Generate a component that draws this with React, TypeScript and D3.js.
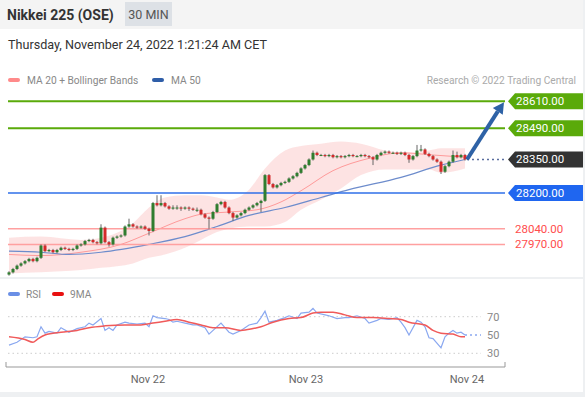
import React from 'react';
import * as d3 from 'd3';

// ---- Candles (30 min) ----
const opens = [27835,27845,27860,27875,27885,27895,27905,27895,27910,27965,27940,27945,27935,27945,27955,27950,27945,27950,27965,27970,27985,27990,27980,27975,28045,27980,27970,28000,28005,28010,28050,28060,28050,28045,28050,28040,28030,28155,28145,28155,28140,28130,28135,28135,28130,28135,28130,28125,28125,28105,28090,28085,28115,28150,28160,28135,28110,28090,28100,28110,28125,28135,28145,28155,28165,28280,28240,28225,28235,28245,28250,28265,28275,28290,28310,28325,28350,28380,28370,28370,28365,28370,28360,28365,28360,28365,28370,28365,28365,28370,28365,28360,28350,28370,28380,28385,28380,28380,28375,28380,28370,28350,28365,28390,28395,28375,28365,28350,28340,28295,28320,28340,28370,28360,28370];
const closes = [27845,27860,27875,27885,27895,27905,27895,27910,27965,27940,27945,27935,27945,27955,27950,27945,27950,27965,27970,27985,27990,27980,27975,28045,27980,27970,28000,28005,28010,28050,28060,28050,28045,28050,28040,28030,28155,28145,28155,28140,28130,28135,28135,28130,28135,28130,28125,28125,28105,28090,28085,28115,28150,28160,28135,28110,28090,28100,28110,28125,28135,28145,28155,28165,28280,28240,28225,28235,28245,28250,28265,28275,28290,28310,28325,28350,28380,28370,28370,28365,28370,28360,28365,28360,28365,28370,28365,28365,28370,28365,28360,28350,28370,28380,28385,28380,28380,28375,28380,28370,28350,28365,28390,28395,28375,28365,28350,28340,28295,28320,28340,28370,28360,28370,28350];
const highs = [27850,27865,27880,27890,27900,27910,27910,27915,27970,27970,27950,27950,27950,27960,27960,27955,27955,27970,27975,27990,27995,27995,27985,28060,28050,27985,28005,28010,28015,28055,28085,28065,28055,28055,28055,28045,28160,28190,28190,28160,28145,28145,28145,28140,28140,28140,28135,28135,28130,28110,28095,28120,28155,28165,28165,28140,28115,28105,28115,28130,28140,28150,28160,28170,28285,28285,28245,28240,28250,28255,28270,28280,28295,28315,28330,28355,28390,28385,28375,28375,28375,28375,28370,28370,28370,28375,28375,28370,28375,28375,28370,28365,28375,28385,28390,28390,28385,28385,28385,28385,28375,28370,28415,28415,28400,28380,28370,28355,28345,28325,28345,28390,28385,28375,28375];
const lows = [27830,27840,27855,27870,27880,27890,27890,27890,27905,27935,27935,27930,27930,27940,27945,27940,27940,27945,27960,27965,27980,27975,27970,27970,27975,27960,27965,27995,28000,28005,28045,28045,28040,28040,28035,28010,28025,28140,28140,28135,28125,28125,28125,28120,28125,28120,28120,28115,28100,28085,28040,28080,28110,28145,28130,28105,28075,28085,28095,28105,28120,28130,28140,28115,28160,28235,28220,28220,28230,28240,28245,28260,28270,28285,28305,28320,28345,28365,28365,28360,28360,28355,28355,28355,28355,28360,28360,28360,28360,28360,28355,28325,28345,28365,28375,28375,28375,28370,28370,28365,28335,28345,28360,28385,28370,28360,28345,28335,28285,28290,28315,28335,28355,28355,28345];

// ---- Indicators (candle index -> value) ----
const ma20Idx = [0, 8, 18, 28, 35, 44, 48, 55, 62, 68, 73, 81, 90, 98, 106, 114];
const ma20Val = [27925, 27920, 27935, 27970, 28020, 28085, 28105, 28115, 28125, 28160, 28210, 28300, 28355, 28380, 28370, 28360];
const ma50Idx = [0, 8, 15, 23, 35, 44, 52, 60, 69, 78, 85, 98, 108, 114];
const ma50Val = [27940, 27935, 27925, 27935, 27970, 28005, 28050, 28100, 28135, 28180, 28215, 28270, 28325, 28350];
const bbIdx = [0, 8, 18, 23, 31, 35, 39, 44, 48, 52, 55, 60, 64, 69, 73, 78, 83, 88, 94, 100, 105, 108, 114];
const bbUpper = [28000, 28005, 27990, 28000, 28065, 28135, 28180, 28190, 28190, 28180, 28170, 28215, 28310, 28390, 28410, 28420, 28430, 28420, 28390, 28380, 28390, 28400, 28400];
const bbLower = [27840, 27845, 27855, 27865, 27885, 27910, 27925, 27955, 27990, 28025, 28040, 28050, 28050, 28070, 28125, 28170, 28220, 28280, 28305, 28305, 28305, 28290, 28310];

const rsiIdx = [0,2,4,6,7,8,9,10,12,13,15,17,19,20,21,23,24,25,26,27,29,30,32,34,35,36,37,39,40,41,42,44,46,47,49,50,53,54,55,56,58,60,62,63,64,65,67,69,70,72,73,75,76,77,79,80,82,84,85,87,89,90,92,93,95,97,98,99,100,102,103,104,105,106,108,109,110,111,112,113,114];
const rsiVal = [39,42,48,47,48,59,52,54,52,58,53,57,59,63,61,68,55,58,55,61,64,63,62,63,59,71,69,68,67,64,65,63,61,61,58,51,63,58,53,51,55,61,63,69,76,64,66,69,71,68,74,75,79,74,72,71,68,69,69,71,68,63,66,68,67,69,64,58,50,66,64,59,47,46,36,48,52,55,52,53,50];
const maRsiIdx = [0,4,6,7,9,13,17,20,24,29,33,36,39,42,45,48,51,54,58,61,63,66,70,73,76,78,81,84,87,91,95,98,100,104,106,108,111,113,114];
const maRsiVal = [48,45,42,45,50,53,55,58,60,61,61,63,65,67,64,61,58,58,55,57,59,64,68,69,74,75,75,72,69,69,68,67,64,61,55,52,51,48,48];

// ---- Levels & ticks ----
const resistances = [28610, 28490];
const pivot = 28350;
const support1 = 28200;
const supports = [28040, 27970];
const target = 28610;
const dateLabels = ['Nov 22', 'Nov 23', 'Nov 24'];
const datePos = [34.75, 74.25, 114.5];
const rsiTicks = [70, 50, 30];

const FONT = 'Roboto, "Liberation Sans", Arial, sans-serif';

export default function App() {
  const W = 585, H = 397;
  const x = d3.scaleLinear().domain([0, 114]).range([9, 465]);
  const y = d3.scaleLinear().domain([27800, 28700]).range([282.4, 81.25]);
  const ry = d3.scaleLinear().domain([30, 70]).range([353.3, 316.7]);
  const plotL = 8, plotR = 505, rsiR = 481;
  const n = closes.length;

  const ma20 = d3.line<number>().x((d, i) => x(ma20Idx[i])).y(d => y(d)).curve(d3.curveMonotoneX)(ma20Val) || '';
  const ma50 = d3.line<number>().x((d, i) => x(ma50Idx[i])).y(d => y(d)).curve(d3.curveMonotoneX)(ma50Val) || '';
  const band = d3.area<number>().x((d, i) => x(bbIdx[i])).y0((d, i) => y(bbLower[i])).y1(d => y(d)).curve(d3.curveMonotoneX)(bbUpper) || '';
  const rsiLine = d3.line<number>().x((d, i) => x(rsiIdx[i])).y(d => ry(d)).curve(d3.curveLinear)(rsiVal) || '';
  const maRsiLine = d3.line<number>().x((d, i) => x(maRsiIdx[i])).y(d => ry(d)).curve(d3.curveMonotoneX)(maRsiVal) || '';

  const tag = (yc: number) => `M${plotR + 3},${yc} L${plotR + 10},${yc - 8} L583,${yc - 8} L583,${yc + 8} L${plotR + 10},${yc + 8} Z`;

  const lastX = x(n - 1);
  const lastY = y(closes[n - 1]);
  const tipX = plotR - 1, tipY = y(target) + 1;
  const ang = Math.atan2(tipY - lastY, tipX - lastX);
  const ah = 11, aw = 6;
  const bx = tipX - ah * Math.cos(ang), by = tipY - ah * Math.sin(ang);
  const head = `M${tipX},${tipY} L${bx + aw * Math.sin(ang)},${by - aw * Math.cos(ang)} L${bx - aw * Math.sin(ang)},${by + aw * Math.cos(ang)} Z`;

  const lastRsi = rsiVal[rsiVal.length - 1];

  return (
    <svg width={W} height={H} style={{ position: 'absolute', left: 0, top: 0, fontFamily: FONT }}>
      <rect x={0} y={0} width={W} height={H} fill="#fff" />
      {/* header */}
      <rect x={0} y={0} width={W} height={29} fill="#f4f4f4" />
      <text x={7} y={19.5} fontSize={14} fontWeight="bold" fill="#333">Nikkei 225 (OSE)</text>
      <rect x={125} y={2} width={47} height={24} fill="#dde1e6" />
      <text x={148.5} y={18.5} fontSize={12.5} fill="#555" textAnchor="middle">30 MIN</text>
      <text x={8} y={48.5} fontSize={12.6} fill="#333">Thursday, November 24, 2022 1:21:24 AM CET</text>

      {/* legend */}
      <rect x={8} y={78} width={12} height={4} rx={2} fill="#ff8a8a" />
      <text x={27} y={84} fontSize={10.2} fill="#888">MA 20 + Bollinger Bands</text>
      <rect x={152} y={78} width={12} height={4} rx={2} fill="#2f5ea8" />
      <text x={171} y={84} fontSize={10.2} fill="#888">MA 50</text>
      <text x={576} y={84} fontSize={10.2} fill="#aaa" textAnchor="end">Research © 2022 Trading Central</text>

      {/* bollinger band */}
      <path d={band} fill="#fde0e0" opacity={0.9} />
      <path d={ma20} fill="none" stroke="#ff9a9a" strokeWidth={1} />
      <path d={ma50} fill="none" stroke="#6d8ccc" strokeWidth={1.2} />

      {/* levels */}
      {resistances.map(v => (
        <g key={v}>
          <line x1={plotL} x2={plotR} y1={y(v)} y2={y(v)} stroke="#5aaa0a" strokeWidth={2} />
          <path d={tag(y(v))} fill="#5aaa0a" />
          <text x={516} y={y(v) + 4} fontSize={11.5} fill="#fff">{v.toFixed(2)}</text>
        </g>
      ))}
      <line x1={plotL} x2={plotR} y1={y(support1)} y2={y(support1)} stroke="#2f6fe8" strokeWidth={1.5} />
      <path d={tag(y(support1))} fill="#1f66f0" />
      <text x={516} y={y(support1) + 4} fontSize={11.5} fill="#fff">{support1.toFixed(2)}</text>
      {supports.map(v => (
        <g key={v}>
          <line x1={plotL} x2={plotR} y1={y(v)} y2={y(v)} stroke="#ffa0a0" strokeWidth={1.5} />
          <text x={515} y={y(v) + 4} fontSize={11.5} fill="#ff4d4d">{v.toFixed(2)}</text>
        </g>
      ))}
      <line x1={lastX + 2} x2={plotR} y1={y(pivot)} y2={y(pivot)} stroke="#5a6e9e" strokeWidth={1.3} strokeDasharray="2,3" />
      <path d={tag(y(pivot))} fill="#333" />
      <text x={516} y={y(pivot) + 4} fontSize={11.5} fill="#fff">{pivot.toFixed(2)}</text>

      {/* candles */}
      {closes.map((c, i) => {
        const o = opens[i];
        const up = c >= o;
        const col = up ? '#2f7d2f' : '#d42a2a';
        const top = y(Math.max(o, c));
        const bot = y(Math.min(o, c));
        return (
          <g key={i}>
            <line x1={x(i)} x2={x(i)} y1={y(highs[i])} y2={y(lows[i])} stroke="#666" strokeWidth={1} />
            <rect x={x(i) - 1.5} y={top} width={3} height={Math.max(1, bot - top)} fill={col} />
          </g>
        );
      })}

      {/* target arrow */}
      <line x1={lastX + 2} y1={lastY} x2={bx} y2={by} stroke="#2e62a6" strokeWidth={4} />
      <path d={head} fill="#2e62a6" />

      {/* separator */}
      <rect x={0} y={277} width={W} height={2} fill="#eef0f2" />

      {/* RSI panel */}
      <rect x={8} y={292} width={12} height={4} rx={2} fill="#6a8fe6" />
      <text x={26} y={298} fontSize={10.2} fill="#888">RSI</text>
      <rect x={52} y={292} width={12} height={4} rx={2} fill="#e81010" />
      <text x={70} y={298} fontSize={10.2} fill="#888">9MA</text>
      {[70, 30].map(v => (
        <line key={v} x1={plotL} x2={rsiR} y1={ry(v)} y2={ry(v)} stroke="#ccc" strokeDasharray="1.5,3" />
      ))}
      <line x1={lastX} x2={rsiR} y1={ry(lastRsi)} y2={ry(lastRsi)} stroke="#8aa8f0" strokeWidth={1.3} strokeDasharray="2,3" />
      {rsiTicks.map(v => (
        <text key={v} x={487} y={ry(v) + 4} fontSize={11} fill="#888">{v}</text>
      ))}
      <path d={rsiLine} fill="none" stroke="#8aa8f0" strokeWidth={1.2} />
      <path d={maRsiLine} fill="none" stroke="#f05a5a" strokeWidth={1.5} />

      {/* time axis */}
      <path d={`M6,362 L6,367 L${plotR},367 L${plotR},362`} fill="none" stroke="#999" strokeWidth={1} />
      {dateLabels.map((t, i) => (
        <text key={t} x={x(datePos[i])} y={383} fontSize={11} fill="#666" textAnchor="middle">{t}</text>
      ))}

      {/* frame */}
      <rect x={0} y={392} width={W} height={5} fill="#eef0f2" />
      <rect x={583} y={0} width={2} height={H} fill="#eef0f2" />
    </svg>
  );
}
